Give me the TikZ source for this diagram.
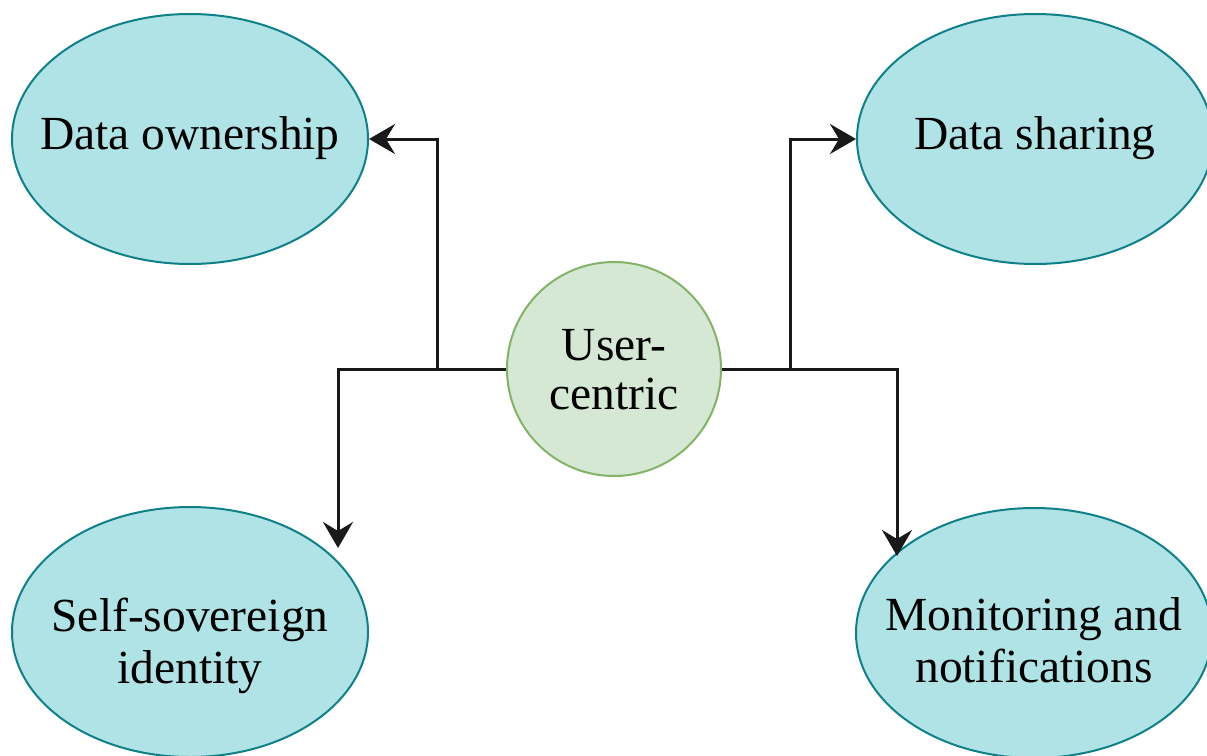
\documentclass[tikz,border=0pt]{standalone}
\usepackage{fontspec}
\setmainfont{Liberation Serif}
\usetikzlibrary{arrows.meta,shapes.geometric}
\definecolor{tealfill}{HTML}{B0E3E6}
\definecolor{tealline}{HTML}{0E8088}
\definecolor{greenfill}{HTML}{D5E8D4}
\definecolor{greenline}{HTML}{82B366}
% centred lines of text that do not widen the shape around them
\newcommand{\flatlabel}[1]{\makebox[0pt]{\begin{tabular}{@{}c@{}}#1\end{tabular}}}
% the same, with no height, lowered by the first argument
\newcommand{\lowlabel}[2]{\raisebox{-#1}[0pt][0pt]{\flatlabel{#2}}}
\tikzset{
  topic/.style={ellipse, draw=tealline, fill=tealfill, line width=2pt,
    minimum width=356pt, minimum height=250pt, inner sep=0pt,
    font=\fontsize{47.5}{52}\selectfont},
  hub/.style={circle, draw=greenline, fill=greenfill, line width=2pt,
    minimum size=214pt, inner sep=0pt,
    font=\fontsize{47.5}{49}\selectfont},
  link/.style={draw=black!90, line width=3pt,
    -{Stealth[length=26pt, width=30pt, inset=9pt]}}
}
\begin{document}
\begin{tikzpicture}[x=1pt, y=-1pt]
  \useasboundingbox (0,0) rectangle (1207,755);

  % outer topics
  \node[topic] (own)   at (190,139)  {\flatlabel{Data ownership}};
  \node[topic] (share) at (1035,139) {\flatlabel{Data sharing}};
  \node[topic] (ssi)   at (190,632)  {\lowlabel{21pt}{Self-sovereign\\identity}};
  \node[topic] (mon)   at (1034,633) {\lowlabel{19pt}{Monitoring and\\notifications}};

  % central topic
  \node[hub] (uc) at (614,369) {\lowlabel{12pt}{User-\\centric}};

  % junctions and arrow ends
  \coordinate (jl)  at (437,369);
  \coordinate (jr)  at (790,369);
  \coordinate (tssi) at (338,548);
  \coordinate (tmon) at (897,556);

  % connectors
  \draw[link] (uc.west) -- (jl) |- (own.east);
  \draw[link] (uc.west) -| (tssi);
  \draw[link] (uc.east) -- (jr) |- (share.west);
  \draw[link] (uc.east) -| (tmon);
\end{tikzpicture}
\end{document}
